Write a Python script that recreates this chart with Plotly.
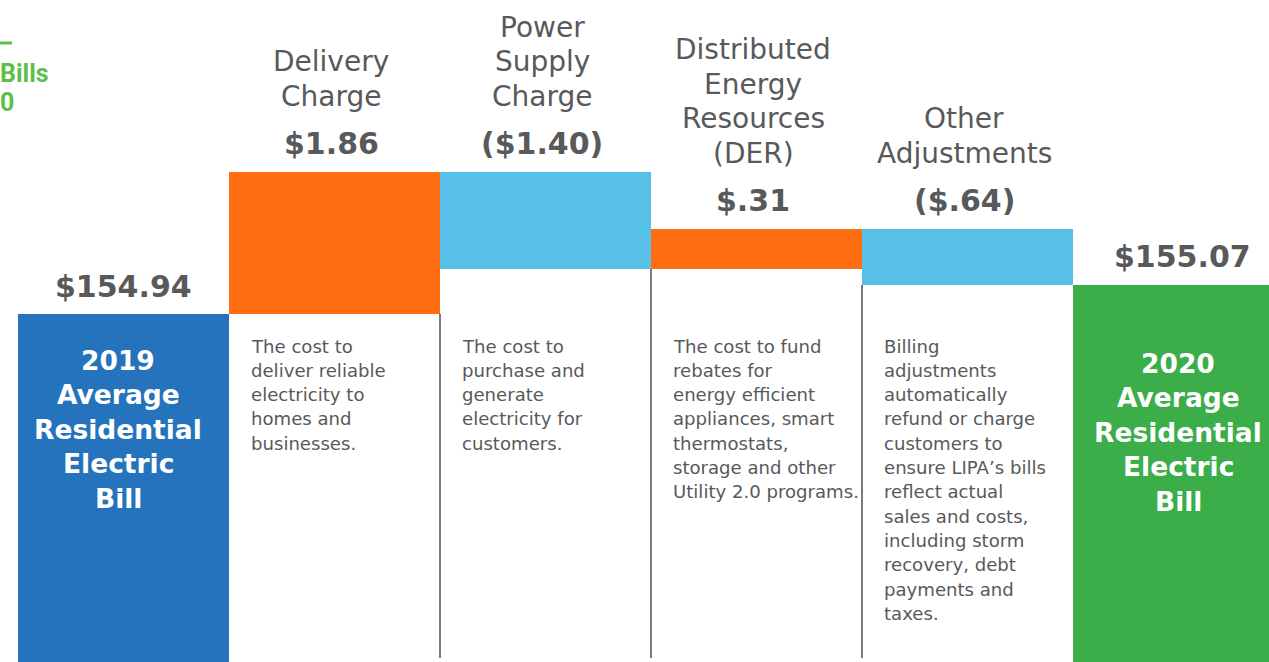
import plotly.graph_objects as go

# --- DATA ---
categories = ["2019", "Delivery", "Power", "DER", "Other", "2020"]
amount_labels = ["$154.94", "$1.86", "($1.40)", "$.31", "($.64)", "$155.07"]
# bar sizes in drawing units as shown in the infographic (not to scale)
start_level = 348
steps = [142, -97, 40, -56]
headers = [
    None,
    ["Delivery", "Charge"],
    ["Power", "Supply", "Charge"],
    ["Distributed", "Energy", "Resources", "(DER)"],
    ["Other", "Adjustments"],
    None,
]
descriptions = [
    None,
    ["The cost to", "deliver reliable", "electricity to", "homes and", "businesses."],
    ["The cost to", "purchase and", "generate", "electricity for", "customers."],
    ["The cost to fund", "rebates for", "energy efficient", "appliances, smart",
     "thermostats,", "storage and other", "Utility 2.0 programs."],
    ["Billing", "adjustments", "automatically", "refund or charge", "customers to",
     "ensure LIPA\u2019s bills", "reflect actual", "sales and costs,", "including storm",
     "recovery, debt", "payments and", "taxes."],
    None,
]
total_labels = [
    ["2019", "Average", "Residential", "Electric", "Bill"],
    ["2020", "Average", "Residential", "Electric", "Bill"],
]

BLUE = "#2473bc"
ORANGE = "#ff6d12"
SKY = "#56c0e8"
GREEN = "#3bad49"
GREY_TXT = "#58595b"
DESC_TXT = "#58595b"
FONT = "DejaVu Sans"

W, H = 1269, 662

# cumulative levels
levels = [start_level]
for s in steps:
    levels.append(levels[-1] + s)
end_level = levels[-1]

bases = [0] + [min(levels[i], levels[i + 1]) for i in range(len(steps))] + [0]
heights = [start_level] + [abs(s) for s in steps] + [end_level]
colors = [BLUE] + [ORANGE if s > 0 else SKY for s in steps] + [GREEN]
xs = list(range(len(categories)))

fig = go.Figure(
    go.Bar(
        x=xs,
        y=heights,
        base=bases,
        width=1.0,
        marker=dict(color=colors, line=dict(width=0)),
        hoverinfo="skip",
    )
)

# x unit -> pixels
X0, XU = 123.5, 211.0


def px_to_x(p):
    return (p - X0) / XU


def ann(text, x, y, size, color, bold=False, xanchor="center"):
    fig.add_annotation(
        text=f"<b>{text}</b>" if bold else text,
        x=x,
        y=y,
        xref="x",
        yref="y",
        xanchor=xanchor,
        yanchor="middle",
        showarrow=False,
        font=dict(size=size, color=color, family=FONT),
    )


# separators between the description columns
for i in range(1, len(steps)):
    fig.add_shape(
        type="line",
        x0=i + 0.5,
        x1=i + 0.5,
        y0=4,
        y1=min(bases[i], bases[i + 1]),
        xref="x",
        yref="y",
        line=dict(color="#7a7a7a", width=2),
        layer="below",
    )

# headers and amounts above the change bars
header_gap = 34.5
for i in range(1, 5):
    top = max(levels[i - 1], levels[i])
    amt_y = top + 29
    ann(amount_labels[i], i - 0.015, amt_y, 30, GREY_TXT, bold=True)
    lines = headers[i]
    first_y = amt_y + 47 + header_gap * (len(lines) - 1)
    for k, line in enumerate(lines):
        ann(line, i - 0.015, first_y - k * header_gap, 28, GREY_TXT)

# amounts above the total bars
ann(amount_labels[0], px_to_x(123), start_level + 28, 30, GREY_TXT, bold=True)
ann(amount_labels[5], px_to_x(1182), end_level + 29, 30, GREY_TXT, bold=True)

# descriptions
desc_gap = 24.3
for i in range(1, 5):
    left = i - 0.5 + 20 / XU
    for k, line in enumerate(descriptions[i]):
        ann(line, left, H - 346 - k * desc_gap, 18.1, DESC_TXT, xanchor="left")

# labels inside the total bars
total_gap = 34.5
for k, line in enumerate(total_labels[0]):
    ann(line, px_to_x(118), H - 360 - k * total_gap, 26.5, "white", bold=True)
for k, line in enumerate(total_labels[1]):
    ann(line, px_to_x(1178), H - 363 - k * total_gap, 26.5, "white", bold=True)

# green title fragment at the top-left corner
fig.add_shape(
    type="line", xref="paper", yref="paper",
    x0=0, x1=12 / W, y0=1 - 43 / H, y1=1 - 43 / H,
    line=dict(color="#5bbf4a", width=3),
)
for txt, yy in [("Bills", 73), ("0", 103)]:
    fig.add_annotation(
        text=f"<b>{txt}</b>", xref="paper", yref="paper",
        x=0, y=1 - yy / H, xanchor="left", yanchor="middle",
        showarrow=False, xshift=-2,
        font=dict(size=25, color="#5bbf4a",
                  family="Liberation Sans Narrow, Roboto, sans-serif"),
    )

fig.update_layout(
    width=W,
    height=H,
    margin=dict(l=0, r=0, t=0, b=0, autoexpand=False),
    plot_bgcolor="white",
    paper_bgcolor="white",
    showlegend=False,
    bargap=0,
    xaxis=dict(range=[px_to_x(0), px_to_x(W)], visible=False, fixedrange=True),
    yaxis=dict(range=[0, H], visible=False, fixedrange=True),
)

fig.write_html(
    "out.html",
    config={"displayModeBar": False},
    post_script="document.body.style.margin = '0';",
)
